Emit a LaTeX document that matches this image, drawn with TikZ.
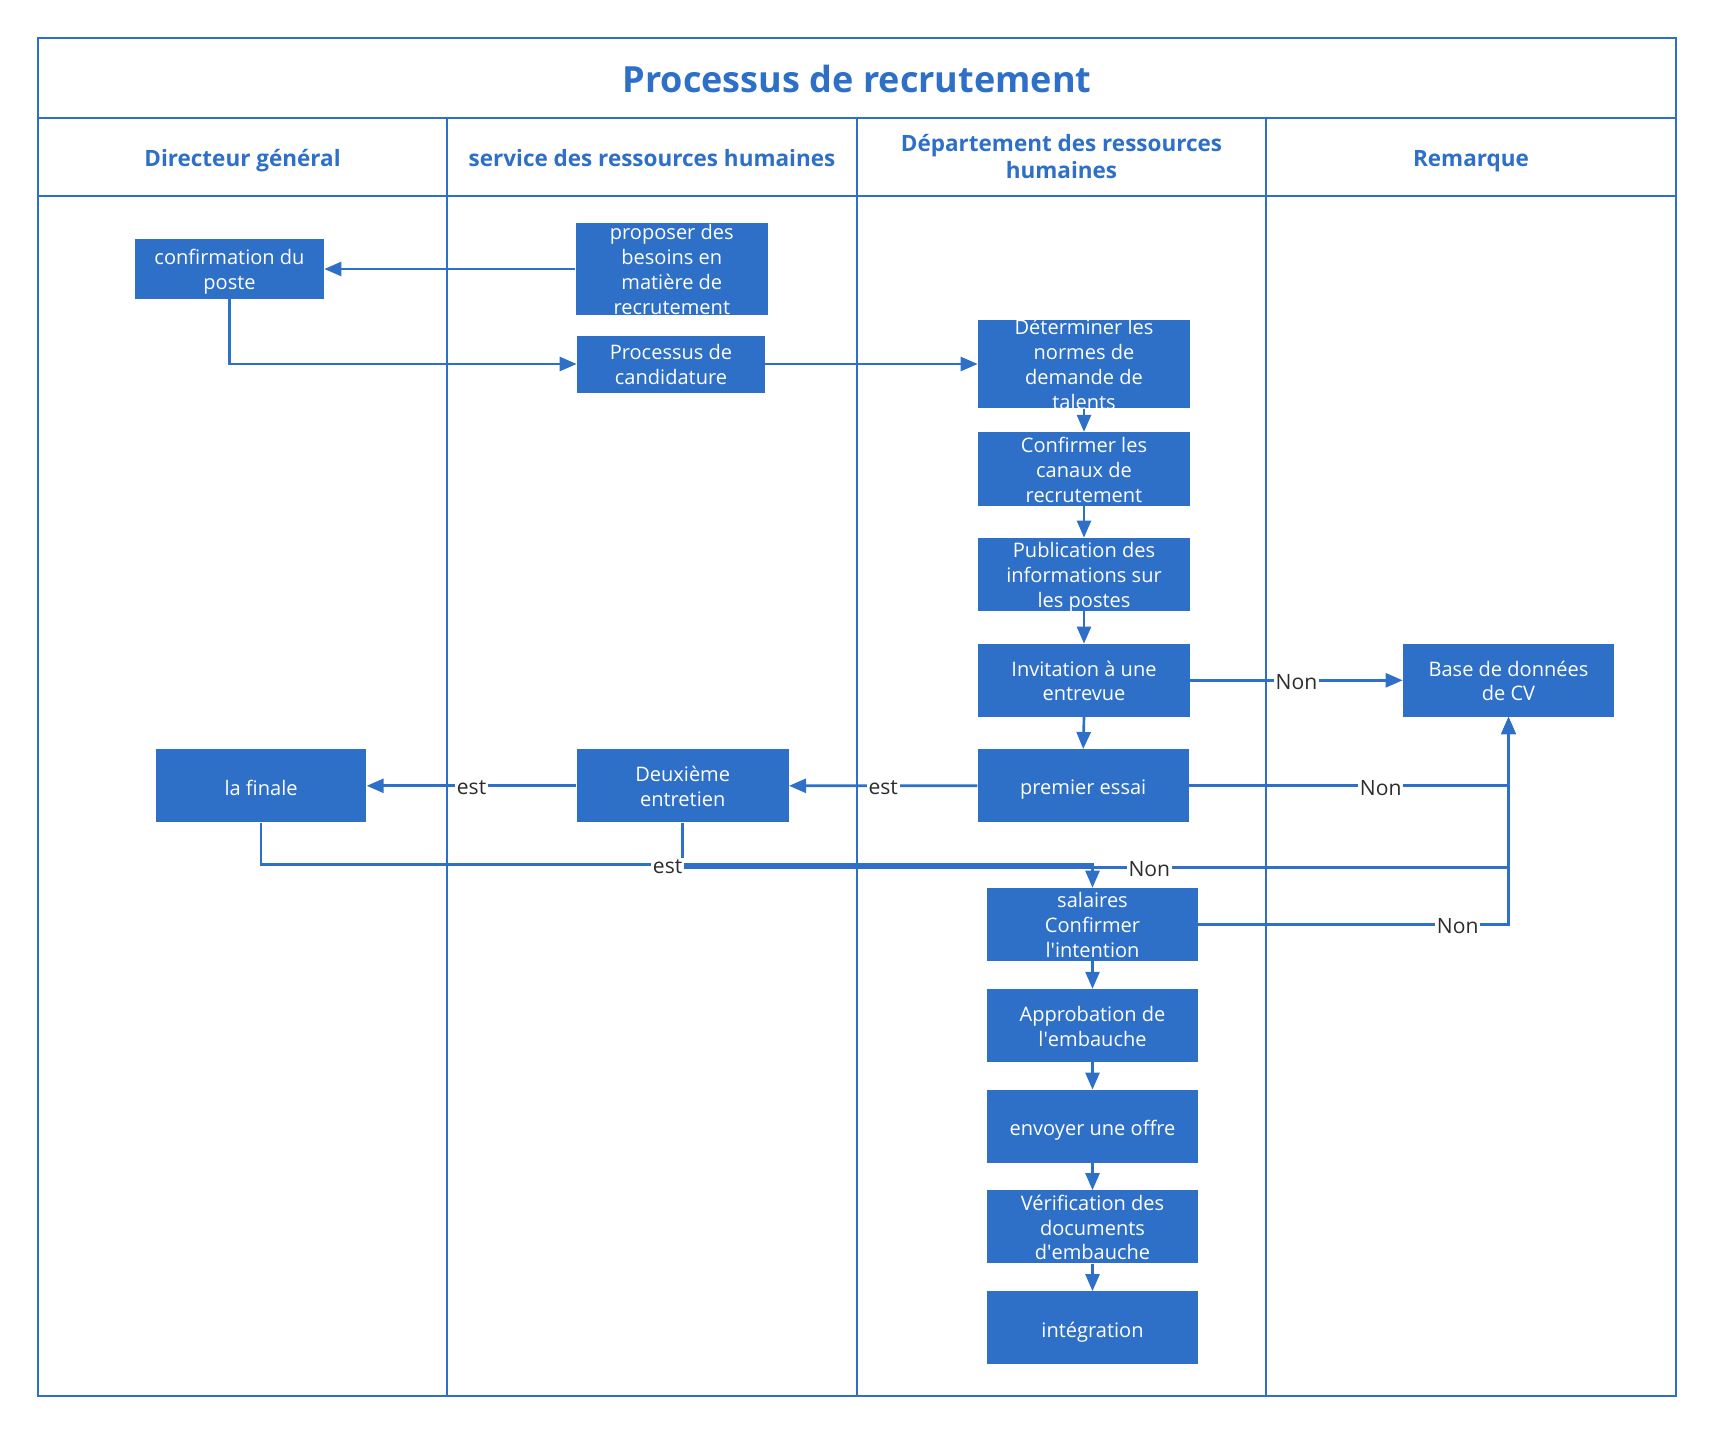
\documentclass[tikz,border=0pt]{standalone}
\usepackage{fontspec}
\setmainfont{Open Sans}
\usetikzlibrary{arrows.meta}
\definecolor{bl}{RGB}{46,111,200}
\definecolor{lbltxt}{RGB}{45,45,45}
\begin{document}
\begin{tikzpicture}[x=0.02cm,y=-0.02cm,
  lane/.style={draw=bl,line width=1.2pt},
  box/.style={rectangle,fill=bl,draw=none,inner sep=0pt,minimum width=4.22cm,minimum height=1.454cm},
  boxtext/.style={text=white,align=center,font=\fontsize{11.4}{14.2}\selectfont,inner sep=0pt,yshift=-0.085cm,
    execute at begin node=\strut,execute at end node=\strut},
  conn/.style={draw=bl,line width=1.5pt,-{Triangle[length=0.34cm,width=0.28cm]}},
  lbl/.style={fill=white,text=lbltxt,font=\fontsize{12}{13}\selectfont,inner sep=1pt,yshift=-0.04cm},
  ttl/.style={text=bl,font=\fontsize{20.5}{24}\selectfont\bfseries},
  hdr/.style={text=bl,align=center,font=\fontsize{12.8}{15.4}\selectfont\bfseries,
    execute at begin node=\strut,execute at end node=\strut}]
\useasboundingbox (0,0) rectangle (1713,1434);
% frame and lanes
\draw[lane] (38,38) rectangle (1676,1396);
\draw[lane] (38,118) -- (1676,118);
\draw[lane] (38,196) -- (1676,196);
\draw[lane] (447,118) -- (447,1396);
\draw[lane] (857,118) -- (857,1396);
\draw[lane] (1266,118) -- (1266,1396);
\node[ttl] (title) at (857,79) {Processus de recrutement};
\node[hdr] (h1) at (242.5,161) {Directeur général};
\node[hdr] (h2) at (652,161) {service des ressources humaines};
\node[hdr] (h3) at (1061.5,160) {Département des ressources\\humaines};
\node[hdr] (h4) at (1471,161) {Remarque};
% boxes
\node[box,minimum width=3.78cm,minimum height=1.2cm,label={[boxtext]center:{confirmation du\\poste}}] (conf) at (229.5,269) {};
\node[box,minimum width=3.85cm,minimum height=1.84cm,label={[boxtext]center:{proposer des\\besoins en\\matière de\\recrutement}}] (prop) at (671.8,269) {};
\node[box,minimum width=3.76cm,minimum height=1.14cm,label={[boxtext]center:{Processus de\\candidature}}] (cand) at (671,364) {};
\node[box,minimum width=4.24cm,minimum height=1.77cm,label={[boxtext]center:{Déterminer les\\normes de\\demande de\\talents}}] (det) at (1084,364) {};
\node[box,minimum width=4.24cm,minimum height=1.47cm,label={[boxtext]center:{Confirmer les\\canaux de\\recrutement}}] (canaux) at (1084,469) {};
\node[box,minimum width=4.24cm,label={[boxtext]center:{Publication des\\informations sur\\les postes}}] (pub) at (1084,574.3) {};
\node[box,minimum width=4.24cm,label={[boxtext]center:{Invitation à une\\entrevue}}] (inv) at (1084,680.3) {};
\node[box,label={[boxtext]center:{premier essai}}] (prem) at (1083.2,785.7) {};
\node[box,minimum width=4.24cm,label={[boxtext]center:{Deuxième\\entretien}}] (deux) at (682.7,785.8) {};
\node[box,minimum width=4.21cm,label={[boxtext]center:{la finale}}] (finale) at (261.1,785.8) {};
\node[box,label={[boxtext]center:{Base de données\\de CV}}] (base) at (1508.5,680.3) {};
\node[box,label={[boxtext]center:{salaires\\Confirmer\\l\textquotesingle intention}}] (sal) at (1092.5,924.4) {};
\node[box,label={[boxtext]center:{Approbation de\\l\textquotesingle embauche}}] (appro) at (1092.5,1025.5) {};
\node[box,label={[boxtext]center:{envoyer une offre}}] (env) at (1092.5,1126.3) {};
\node[box,label={[boxtext]center:{Vérification des\\documents\\d\textquotesingle embauche}}] (verif) at (1092.5,1226.8) {};
\node[box,label={[boxtext]center:{intégration}}] (integ) at (1092.5,1327.8) {};
\coordinate (yA) at (0,864.5);
\coordinate (yB) at (0,867.5);
% connectors
\draw[conn] (prop.west) -- (conf.east);
\draw[conn] (conf.south) |- (cand.west);
\draw[conn] (cand.east) -- (det.west);
\draw[conn] (det.south) -- (canaux.north);
\draw[conn] (canaux.south) -- (pub.north);
\draw[conn] (pub.south) -- (inv.north);
\draw[conn] (inv.south) -- (prem.north);
\draw[conn] (inv.east) -- node[lbl]{Non} (base.west);
\draw[conn] (prem.west) -- node[lbl]{est} (deux.east);
\draw[conn] (deux.west) -- node[lbl]{est} (finale.east);
\draw[conn] (prem.east) -| node[lbl,pos=0.3]{Non} (base.south);
\draw[conn] (sal.east) -| node[lbl,pos=0.418]{Non} (base.south);
\draw[conn] (deux.south) -- (deux.south |- yB) -- node[lbl,pos=0.565]{Non} (base.south |- yB) -- (base.south);
\draw[conn] (finale.south) -- (finale.south |- yA) -- node[lbl,pos=0.489]{est} (sal.north |- yA) -- (sal.north);
\draw[conn] (sal.south) -- (appro.north);
\draw[conn] (appro.south) -- (env.north);
\draw[conn] (env.south) -- (verif.north);
\draw[conn] (verif.south) -- (integ.north);
\end{tikzpicture}
\end{document}
